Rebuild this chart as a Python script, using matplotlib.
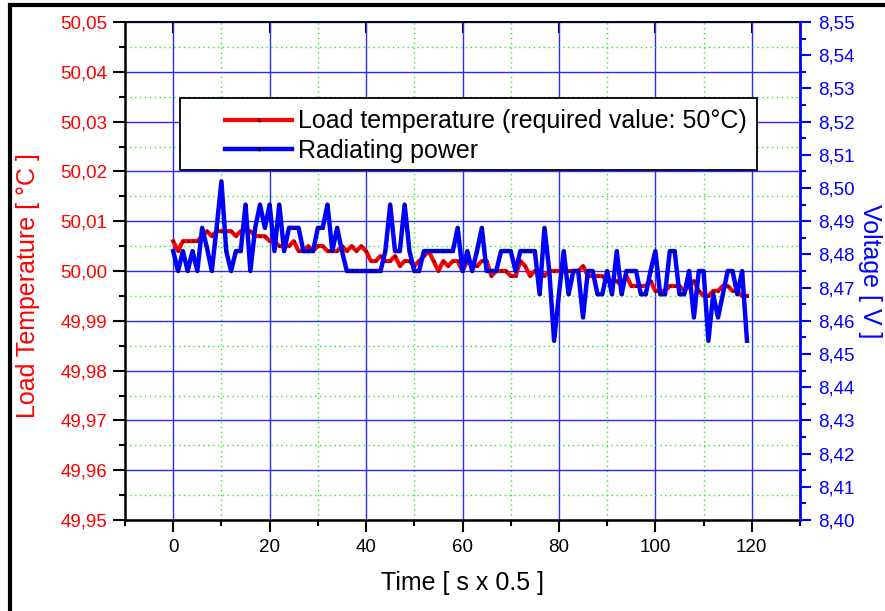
import matplotlib as mpl
import matplotlib.pyplot as plt
from matplotlib.patches import Rectangle
from matplotlib.ticker import FuncFormatter, MultipleLocator


TIME = list(range(120))

LOAD_TEMPERATURE = [
    50.006, 50.004, 50.006, 50.006, 50.006, 50.006, 50.007, 50.008, 50.007, 50.008,
    50.008, 50.008, 50.008, 50.007, 50.008, 50.008, 50.008, 50.007, 50.007, 50.007,
    50.006, 50.006, 50.005, 50.005, 50.005, 50.006, 50.004, 50.004, 50.005, 50.004,
    50.005, 50.005, 50.004, 50.004, 50.004, 50.005, 50.004, 50.005, 50.004, 50.005,
    50.004, 50.002, 50.002, 50.003, 50.002, 50.002, 50.003, 50.001, 50.002, 50.002,
    50.001, 50.002, 50.003, 50.004, 50.002, 50.000, 50.002, 50.001, 50.002, 50.002,
    50.000, 50.002, 50.001, 50.001, 50.002, 50.002, 49.999, 50.000, 50.000, 50.000,
    49.999, 49.999, 50.002, 50.001, 49.999, 50.000, 50.000, 49.999, 50.000, 50.000,
    50.000, 50.000, 50.000, 50.000, 50.000, 50.001, 49.999, 49.999, 49.999, 49.999,
    49.998, 49.998, 49.998, 49.997, 49.999, 49.997, 49.997, 49.997, 49.997, 49.998,
    49.996, 49.996, 49.996, 49.997, 49.997, 49.997, 49.996, 49.997, 49.998, 49.996,
    49.995, 49.995, 49.996, 49.996, 49.997, 49.997, 49.996, 49.996, 49.995, 49.995,
]

RADIATING_POWER = [
    8.481, 8.475, 8.481, 8.475, 8.481, 8.475, 8.488, 8.482, 8.475, 8.488,
    8.502, 8.481, 8.475, 8.481, 8.481, 8.495, 8.475, 8.488, 8.495, 8.488,
    8.495, 8.481, 8.495, 8.481, 8.488, 8.488, 8.488, 8.481, 8.481, 8.481,
    8.488, 8.488, 8.495, 8.481, 8.488, 8.481, 8.475, 8.475, 8.475, 8.475,
    8.475, 8.475, 8.475, 8.475, 8.481, 8.495, 8.481, 8.481, 8.495, 8.481,
    8.475, 8.475, 8.481, 8.481, 8.481, 8.481, 8.481, 8.481, 8.481, 8.488,
    8.475, 8.481, 8.475, 8.481, 8.488, 8.475, 8.475, 8.475, 8.481, 8.481,
    8.481, 8.475, 8.481, 8.481, 8.481, 8.481, 8.468, 8.488, 8.475, 8.454,
    8.468, 8.481, 8.468, 8.475, 8.475, 8.461, 8.475, 8.475, 8.468, 8.468,
    8.475, 8.468, 8.481, 8.468, 8.475, 8.475, 8.475, 8.468, 8.468, 8.475,
    8.481, 8.468, 8.468, 8.481, 8.481, 8.468, 8.468, 8.475, 8.461, 8.475,
    8.475, 8.454, 8.468, 8.461, 8.468, 8.475, 8.475, 8.468, 8.475, 8.454,
]

TEMP_LABEL = "Load temperature (required value: 50°C)"
POWER_LABEL = "Radiating power"

W, H = 885, 611


def comma_fmt(v, pos):
    return f"{v:.2f}".replace(".", ",")


def px_to_fig(x, y):
    return x / W, 1 - y / H


def main():
    mpl.rcParams.update(
        {
            "font.family": ["Liberation Sans", "DejaVu Sans"],
            "font.size": 13.5,
        }
    )

    fig = plt.figure(figsize=(W / 100, H / 100), dpi=100)
    fig.patch.set_facecolor("white")
    ax = fig.add_axes([125 / W, 1 - 520 / H, 675 / W, 498 / H])
    ax2 = ax.twinx()

    # left axis: temperature
    ax.plot(TIME, LOAD_TEMPERATURE, color="#ff0000", lw=3.0, marker="o",
            markersize=0.9, markerfacecolor="#550000", markeredgecolor="#550000",
            label=TEMP_LABEL, zorder=3)
    ax.set_xlim(-10, 130)
    ax.set_ylim(49.95, 50.05)
    ax.xaxis.set_major_locator(MultipleLocator(20))
    ax.xaxis.set_minor_locator(MultipleLocator(10))
    ax.yaxis.set_major_locator(MultipleLocator(0.01))
    ax.yaxis.set_minor_locator(MultipleLocator(0.005))
    ax.yaxis.set_major_formatter(FuncFormatter(comma_fmt))

    ax.grid(which="major", color="#2a2aff", lw=1.0, zorder=0)
    ax.grid(which="minor", color="#22ee22", lw=1.0, ls=(0, (1, 2.5)), zorder=0)
    ax.set_axisbelow(True)

    ax.tick_params(axis="both", which="major", direction="out", length=8.5, width=1.5,
                   color="black", pad=4)
    ax.tick_params(axis="both", which="minor", direction="out", length=4.5, width=1.5,
                   color="black")
    ax.tick_params(axis="y", labelcolor="#ff0000")
    ax.tick_params(axis="x", labelcolor="black", pad=5)
    for side in ["left", "bottom"]:
        ax.spines[side].set_linewidth(1.8)
    ax.spines["top"].set_linewidth(1.2)

    top = ax.secondary_xaxis("top")
    top.xaxis.set_major_locator(MultipleLocator(20))
    top.tick_params(direction="in", length=8, width=1.5, labeltop=False)
    top.spines["top"].set_linewidth(1.2)

    ax.set_xlabel("Time [ s x 0.5 ]", fontsize=18, va="center")
    ax.xaxis.set_label_coords(0.5007, -0.1265)
    ax.set_ylabel("Load Temperature [ °C ]", fontsize=18, color="#ff0000", va="center")
    ax.yaxis.set_label_coords(-0.1437, 0.47)

    # right axis: voltage
    ax2.plot(TIME, RADIATING_POWER, color="#0000ff", lw=3.2, marker="o",
             markersize=0.9, markerfacecolor="#000055", markeredgecolor="#000055",
             label=POWER_LABEL, zorder=3)
    ax2.set_ylim(8.40, 8.55)
    ax2.yaxis.set_major_locator(MultipleLocator(0.01))
    ax2.yaxis.set_minor_locator(MultipleLocator(0.005))
    ax2.yaxis.set_major_formatter(FuncFormatter(comma_fmt))
    ax2.tick_params(axis="y", which="major", direction="out", length=8, width=1.5,
                    color="#0000ff", labelcolor="#0000ff", pad=5)
    ax2.tick_params(axis="y", which="minor", direction="out", length=4.5, width=1.5,
                    color="#0000ff")
    ax2.spines["right"].set_color("#0000ff")
    ax2.spines["right"].set_linewidth(2.0)
    ax2.spines["top"].set_visible(False)
    ax2.spines["left"].set_visible(False)
    ax2.spines["bottom"].set_visible(False)
    ax2.set_ylabel("Voltage [ V ]", fontsize=18, color="#0000ff", rotation=270, va="center")
    ax2.yaxis.set_label_coords(1.103, 0.5)

    # legend box
    x0, y0 = px_to_fig(180, 170)
    x1, y1 = px_to_fig(757, 98)
    ax2.add_patch(Rectangle((x0, y0), x1 - x0, y1 - y0, transform=fig.transFigure,
                            facecolor="white", edgecolor="black", lw=1.3, zorder=5))
    handles = ax.get_lines()[:1] + ax2.get_lines()[:1]
    lx, ly = px_to_fig(486, 136)
    leg = ax2.legend(handles, [TEMP_LABEL, POWER_LABEL], loc="center",
                     bbox_to_anchor=(lx, ly), bbox_transform=fig.transFigure,
                     frameon=False, fontsize=18, handlelength=2.7, handletextpad=0.25,
                     labelspacing=0.22, borderpad=0.2, markerscale=2.0)
    leg.set_zorder(6)

    # outer frame of the original figure
    fx, fy = px_to_fig(9.5, 4.5)
    fig.add_artist(Rectangle((fx, -0.1), 1.2, fy + 0.1, transform=fig.transFigure,
                             facecolor="none", edgecolor="black", lw=3.0))

    fig.savefig("out.png", dpi=100)
    plt.close(fig)


if __name__ == "__main__":
    main()
